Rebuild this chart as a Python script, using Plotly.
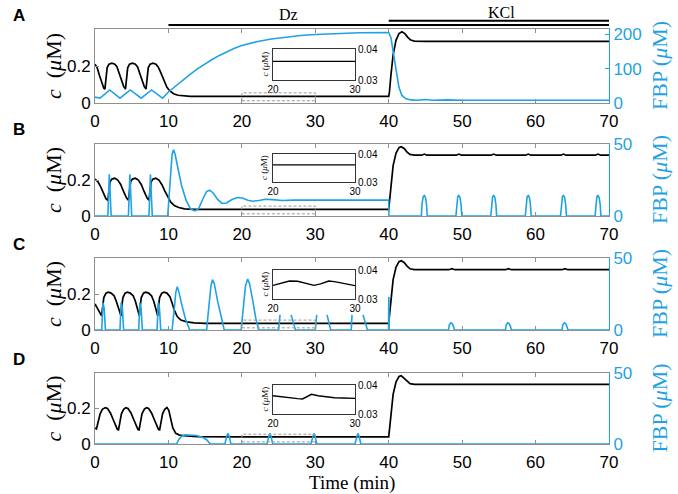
import plotly.graph_objects as go

# ---------------- data ----------------
time_ticks = [0, 10, 20, 30, 40, 50, 60, 70]
c_ticks = [0, 0.2]
c_ticktext = ["0", "0.2"]
fbp_ticks_A = [0, 100, 200]
fbp_ticks_BCD = [0, 50]
inset_x_ticks = [20, 30]
inset_y_ticks = [0.03, 0.04]
inset_y_ticktext = ["0.03", "0.04"]
panel_letters = ["A", "B", "C", "D"]
protocol_labels = ["Dz", "KCl"]
protocol_start = [10, 40]
protocol_end = [70, 70]

# (time min, c uM)
A_c = [(0, 0.21), (0.3, 0.19), (0.6, 0.15), (0.9, 0.11), (1.2, 0.08), (1.35, 0.075), (1.5, 0.14), (1.65, 0.19),
       (1.9, 0.21), (2.3, 0.215), (2.7, 0.21), (3.0, 0.195), (3.3, 0.16), (3.6, 0.12), (3.9, 0.09), (4.15, 0.075),
       (4.3, 0.14), (4.45, 0.19), (4.7, 0.21), (5.1, 0.215), (5.5, 0.21), (5.8, 0.195), (6.1, 0.16), (6.4, 0.12),
       (6.7, 0.09), (6.95, 0.075), (7.1, 0.14), (7.25, 0.19), (7.5, 0.21), (7.9, 0.215), (8.3, 0.21), (8.6, 0.195),
       (8.9, 0.17), (9.2, 0.14), (9.5, 0.11), (9.8, 0.085), (10.2, 0.065), (10.7, 0.05), (11.3, 0.042), (12, 0.038),
       (13, 0.036), (40, 0.036), (40.1, 0.06), (40.3, 0.15), (40.6, 0.26), (41.0, 0.34), (41.4, 0.375), (41.8, 0.385),
       (42.2, 0.375), (42.6, 0.355), (43.0, 0.34), (43.5, 0.335), (45, 0.333), (70, 0.333)]
# (time min, FBP uM)
A_fbp = [(0, 17), (0.7, 14), (2.0, 38), (3.4, 14), (4.8, 38), (6.3, 14), (7.7, 38), (9.2, 14), (10, 32), (11, 50),
         (12, 67), (13, 84), (14, 100), (15, 114), (16, 127), (17, 139), (18, 150), (19, 159), (20, 167), (22, 178),
         (24, 186), (26, 192), (28, 196), (30, 199), (33, 202), (36, 204), (40, 205), (40.3, 190), (40.6, 150),
         (41.0, 90), (41.4, 45), (41.8, 22), (42.3, 13), (43, 9), (44, 8), (45, 10), (46, 8), (48, 9), (50, 8),
         (55, 8), (70, 8)]
A_inset = [(20, 0.0360), (30, 0.0360)]

B_c = [(0, 0.205), (0.4, 0.19), (0.8, 0.16), (1.2, 0.12), (1.5, 0.095), (1.75, 0.088), (1.9, 0.15), (2.05, 0.19),
       (2.3, 0.205), (2.7, 0.21), (3.1, 0.2), (3.5, 0.175), (3.9, 0.135), (4.3, 0.1), (4.55, 0.088), (4.7, 0.15),
       (4.85, 0.19), (5.1, 0.205), (5.5, 0.21), (5.9, 0.2), (6.3, 0.175), (6.7, 0.135), (7.1, 0.1), (7.35, 0.088),
       (7.5, 0.15), (7.65, 0.19), (7.9, 0.205), (8.3, 0.21), (8.7, 0.2), (9.1, 0.175), (9.5, 0.14), (9.9, 0.105),
       (10.3, 0.078), (10.8, 0.058), (11.4, 0.047), (12.2, 0.04), (13.5, 0.037), (40, 0.037), (40.1, 0.08),
       (40.3, 0.18), (40.6, 0.28), (41.0, 0.35), (41.4, 0.38), (41.7, 0.385), (42.1, 0.375), (42.5, 0.355),
       (42.9, 0.342), (43.5, 0.338), (44.5, 0.338), (44.85, 0.344), (45.2, 0.338), (49.2, 0.338), (49.55, 0.344),
       (49.9, 0.338), (53.95, 0.338), (54.3, 0.344), (54.65, 0.338), (58.65, 0.338), (59.0, 0.344), (59.35, 0.338),
       (63.45, 0.338), (63.8, 0.344), (64.15, 0.338), (68.15, 0.338), (68.5, 0.344), (68.85, 0.338), (70, 0.338)]
B_fbp = [(0, 0), (1.75, 0), (1.95, 29), (2.2, 0), (4.55, 0), (4.75, 29), (5.0, 0), (7.35, 0), (7.55, 29), (7.8, 0),
         (9.9, 0), (10.2, 25), (10.5, 43), (10.7, 46), (10.9, 43), (11.3, 33), (11.8, 21), (12.4, 11), (13.0, 5),
         (13.6, 3.5), (14.1, 5), (14.7, 12), (15.2, 17), (15.6, 18), (16.1, 16), (16.7, 11.5), (17.3, 8.8),
         (17.9, 9), (18.6, 11.3), (19.4, 12.8), (20.1, 12.5), (20.8, 11), (21.5, 10.3), (22.3, 10.8), (23.2, 11.6),
         (24.2, 11.4), (25.5, 10.8), (27, 11), (40, 11), (40.02, 0),
         (44.45, 0), (44.55, 9), (44.7, 13.5), (44.85, 14.2), (45.0, 13), (45.15, 8), (45.25, 0),
         (49.15, 0), (49.25, 9), (49.4, 13.5), (49.55, 14.2), (49.7, 13), (49.85, 8), (49.95, 0),
         (53.9, 0), (54.0, 9), (54.15, 13.5), (54.3, 14.2), (54.45, 13), (54.6, 8), (54.7, 0),
         (58.6, 0), (58.7, 9), (58.85, 13.5), (59.0, 14.2), (59.15, 13), (59.3, 8), (59.4, 0),
         (63.4, 0), (63.5, 9), (63.65, 13.5), (63.8, 14.2), (63.95, 13), (64.1, 8), (64.2, 0),
         (68.1, 0), (68.2, 9), (68.35, 13.5), (68.5, 14.2), (68.65, 13), (68.8, 8), (68.9, 0), (70, 0)]
B_inset = [(20, 0.0361), (30, 0.0361)]

C_c = [(0, 0.145), (0.3, 0.12), (0.6, 0.095), (0.9, 0.078), (1.05, 0.13), (1.2, 0.18), (1.5, 0.205), (1.8, 0.21),
       (2.2, 0.205), (2.6, 0.19), (2.9, 0.16), (3.2, 0.12), (3.45, 0.085), (3.55, 0.078), (3.65, 0.13), (3.8, 0.18),
       (4.1, 0.205), (4.4, 0.21), (4.8, 0.205), (5.2, 0.19), (5.5, 0.16), (5.75, 0.12), (5.95, 0.085), (6.05, 0.078),
       (6.15, 0.13), (6.3, 0.18), (6.6, 0.205), (6.9, 0.21), (7.3, 0.205), (7.7, 0.19), (8.0, 0.16), (8.25, 0.12),
       (8.45, 0.085), (8.55, 0.078), (8.65, 0.13), (8.8, 0.18), (9.1, 0.205), (9.4, 0.21), (9.8, 0.205),
       (10.2, 0.185), (10.5, 0.15), (10.8, 0.11), (11.2, 0.075), (11.7, 0.055), (12.5, 0.045), (13.5, 0.04),
       (15, 0.037), (40, 0.037), (40.1, 0.08), (40.3, 0.18), (40.6, 0.28), (41.0, 0.35), (41.4, 0.38),
       (41.7, 0.385), (42.1, 0.375), (42.5, 0.355), (42.9, 0.34), (43.5, 0.335), (48.2, 0.335), (48.6, 0.341),
       (49.0, 0.335), (55.9, 0.335), (56.3, 0.341), (56.7, 0.335), (63.6, 0.335), (64.0, 0.341), (64.4, 0.335),
       (70, 0.335)]
C_fbp = [(0, 0), (0.92, 0), (1.08, 19), (1.25, 15), (1.42, 0), (3.4, 0), (3.56, 19), (3.73, 15), (3.9, 0),
         (5.95, 0), (6.11, 19), (6.28, 15), (6.45, 0), (8.45, 0), (8.61, 19), (8.78, 15), (8.95, 0),
         (10.5, 0), (10.8, 15), (11.0, 26), (11.2, 30), (11.4, 27), (11.8, 18), (12.3, 8), (12.9, 0),
         (15.2, 0), (15.5, 16), (15.8, 31), (16.0, 35), (16.25, 32), (16.7, 20), (17.2, 8), (17.6, 0),
         (19.9, 0), (20.2, 16), (20.5, 31), (20.8, 35.4), (21.05, 32), (21.5, 20), (21.9, 8), (22.3, 0),
         (25.0, 0), (25.2, 10.5), (None, None), (26.7, 10.5), (27.3, 0),
         (30.0, 0), (30.2, 10.5), (None, None), (31.6, 10.5), (32.1, 0),
         (34.9, 0), (35.0, 10.5), (None, None), (36.5, 10.5), (37.1, 0),
         (39.97, 0), (40.02, 23), (40.07, 0),
         (48.15, 0), (48.25, 3.5), (48.45, 5), (48.65, 4.5), (48.85, 2), (48.95, 0),
         (55.9, 0), (56.0, 3.5), (56.2, 5), (56.4, 4.5), (56.6, 2), (56.7, 0),
         (63.6, 0), (63.7, 3.5), (63.9, 5), (64.1, 4.5), (64.3, 2), (64.4, 0), (70, 0)]
C_inset = [(20, 0.0347), (21, 0.0355), (22, 0.0362), (23, 0.0361), (24, 0.0354), (25, 0.0347), (25.8, 0.0352),
           (26.8, 0.0362), (27.5, 0.0360), (28.5, 0.0354), (29.3, 0.0349), (30, 0.0346)]

D_c = [(0, 0.09), (0.2, 0.085), (0.4, 0.12), (0.7, 0.17), (1.0, 0.195), (1.4, 0.205), (1.7, 0.2), (2.1, 0.175),
       (2.5, 0.135), (2.8, 0.1), (3.05, 0.082), (3.2, 0.08), (3.35, 0.12), (3.6, 0.17), (3.9, 0.195), (4.2, 0.205),
       (4.5, 0.2), (4.9, 0.175), (5.3, 0.135), (5.6, 0.1), (5.85, 0.082), (6.0, 0.08), (6.15, 0.12), (6.4, 0.17),
       (6.7, 0.195), (7.0, 0.205), (7.3, 0.2), (7.7, 0.175), (8.1, 0.135), (8.4, 0.1), (8.65, 0.082), (8.8, 0.08),
       (8.95, 0.12), (9.2, 0.17), (9.5, 0.195), (9.8, 0.205), (10.05, 0.19), (10.3, 0.14), (10.6, 0.09),
       (11.0, 0.06), (11.5, 0.05), (12.5, 0.045), (14, 0.042), (20, 0.04), (40, 0.04), (40.1, 0.08), (40.3, 0.18),
       (40.6, 0.28), (41.0, 0.35), (41.4, 0.38), (41.7, 0.385), (42.1, 0.37), (42.5, 0.35), (42.9, 0.34),
       (43.5, 0.336), (70, 0.336)]
D_fbp = [(0, 0), (11.1, 0), (11.4, 3), (11.8, 5.5), (12.3, 6.5), (13.0, 6.5), (13.8, 6), (14.6, 4.8), (15.2, 3),
         (15.7, 0), (17.7, 0), (17.9, 5), (18.1, 7.5), (18.3, 5), (18.5, 0), (23.4, 0), (23.6, 5), (23.8, 7.5),
         (24.0, 5), (24.2, 0), (29.4, 0), (29.6, 5), (29.8, 7.5), (30.0, 5), (30.2, 0), (35.4, 0), (35.6, 5),
         (35.8, 7.5), (36.0, 5), (36.2, 0), (70, 0)]
D_inset = [(20, 0.0363), (21, 0.0359), (22, 0.0356), (23, 0.0353), (23.6, 0.0352), (24.2, 0.0362), (24.7, 0.0368),
           (25.5, 0.0363), (26.5, 0.0359), (27.5, 0.0356), (28.5, 0.0355), (30, 0.0354)]

# ---------------- layout geometry (pixels) ----------------
W, H = 678, 494
BLUE = "#1fa2e4"
GREY = "#8f8f8f"
SANS = "Liberation Sans"
SERIF = "Liberation Serif"

def px(x):
    return x / W

def py(y):
    return 1 - y / H

panels = [
    dict(c=A_c, f=A_fbp, ins=A_inset, frange=[0, 215], fticks=fbp_ticks_A, top=29, bot=103, itop=49, ibot=80),
    dict(c=B_c, f=B_fbp, ins=B_inset, frange=[0, 50], fticks=fbp_ticks_BCD, top=144, bot=216, itop=154, ibot=182),
    dict(c=C_c, f=C_fbp, ins=C_inset, frange=[0, 50], fticks=fbp_ticks_BCD, top=258, bot=330, itop=270, ibot=299),
    dict(c=D_c, f=D_fbp, ins=D_inset, frange=[0, 50], fticks=fbp_ticks_BCD, top=373, bot=444, itop=385, ibot=414),
]
X0, X1 = 95, 609
IX0, IX1 = 273, 355

fig = go.Figure()
annotations = []
shapes = []

def unzip(pairs):
    return [p[0] for p in pairs], [p[1] for p in pairs]

def label(xpix, ypix, text, size, family, color="black", angle=0):
    return dict(x=px(xpix), y=py(ypix), xref="paper", yref="paper", text=text, showarrow=False,
                xanchor="center", yanchor="middle", textangle=angle,
                font=dict(family=family, size=size, color=color))

for i, p in enumerate(panels):
    k = i + 1
    xa = "x" if k == 1 else f"x{k}"
    ya = "y" if k == 1 else f"y{k}"
    yf = f"y{k + 4}"
    xi = f"x{k + 4}"
    yi = f"y{k + 8}"

    t, v = unzip(p["c"])
    fig.add_trace(go.Scatter(x=t, y=v, mode="lines", line=dict(color="black", width=1.7),
                             xaxis=xa, yaxis=ya, showlegend=False, connectgaps=False, hoverinfo="skip"))
    t, v = unzip(p["f"])
    fig.add_trace(go.Scatter(x=t, y=v, mode="lines", line=dict(color=BLUE, width=1.6),
                             xaxis=xa, yaxis=yf, showlegend=False, connectgaps=False, hoverinfo="skip"))
    t, v = unzip(p["ins"])
    fig.add_trace(go.Scatter(x=t, y=v, mode="lines", line=dict(color="black", width=1.4),
                             xaxis=xi, yaxis=yi, showlegend=False, hoverinfo="skip"))

    xkey = "xaxis" if k == 1 else f"xaxis{k}"
    ykey = "yaxis" if k == 1 else f"yaxis{k}"
    fig.layout[xkey] = dict(domain=[px(X0), px(X1)], anchor=ya, range=[0, 70], tickvals=time_ticks,
                            ticks="inside", ticklen=4, tickcolor=GREY, showline=True, linecolor=GREY,
                            linewidth=1, mirror="ticks", showgrid=False, zeroline=False, ticklabelstandoff=3,
                            tickfont=dict(family=SANS, size=17, color="black"), automargin=False)
    fig.layout[ykey] = dict(domain=[py(p["bot"]), py(p["top"])], anchor=xa, range=[0, 0.4],
                            tickvals=c_ticks, ticktext=c_ticktext, ticks="inside", ticklen=4, tickcolor=GREY,
                            showline=True, linecolor=GREY, linewidth=1, showgrid=False, zeroline=False,
                            tickfont=dict(family=SANS, size=17, color="black"), automargin=False)
    fig.layout[f"yaxis{k + 4}"] = dict(overlaying=ya, anchor=xa, side="right", range=p["frange"],
                                       tickvals=p["fticks"], ticks="inside", ticklen=4, tickcolor=BLUE,
                                       showline=True, linecolor=BLUE, linewidth=1, showgrid=False,
                                       zeroline=False, tickfont=dict(family=SANS, size=17, color=BLUE),
                                       automargin=False)
    fig.layout[f"xaxis{k + 4}"] = dict(domain=[px(IX0), px(IX1)], anchor=yi, range=[20, 30],
                                       tickvals=inset_x_ticks, ticks="", showline=True, linecolor="#333",
                                       linewidth=1, mirror=True, showgrid=False, zeroline=False,
                                       tickfont=dict(family=SANS, size=10, color="black"), automargin=False)
    fig.layout[f"yaxis{k + 8}"] = dict(domain=[py(p["ibot"]), py(p["itop"])], anchor=xi, range=[0.03, 0.04],
                                       tickvals=inset_y_ticks, ticktext=inset_y_ticktext, side="right",
                                       ticks="", showline=True, linecolor="#333", linewidth=1, mirror=True,
                                       showgrid=False, zeroline=False,
                                       tickfont=dict(family=SANS, size=10, color="black"), automargin=False)

    # dashed zoom rectangle
    shapes.append(dict(type="rect", xref=xa, yref=ya, x0=20, x1=30, y0=0.012, y1=0.055,
                       line=dict(color="#9a9a9a", width=1, dash="3px,2px")))

    # labels
    cy = (p["top"] + p["bot"]) / 2
    annotations.append(label(19, p["top"] - 14, f"<b>{panel_letters[i]}</b>", 17, SANS))
    annotations.append(label(53, cy, "<i>c</i>  (<i>μ</i>M)", 22, SERIF, angle=-90))
    annotations.append(label(659, cy, "FBP (<i>μ</i>M)", 22, SERIF, color=BLUE, angle=-90))
    icy = (p["itop"] + p["ibot"]) / 2
    annotations.append(label(264, icy, "<i>c</i> (<i>μ</i>M)", 9, SERIF, angle=-90))

# protocol bars
bar_y = [25, 20.7]
label_x = [288, 501]
label_y = [14, 12]
for j in range(2):
    shapes.append(dict(type="line", xref="x", yref="paper", x0=protocol_start[j], x1=protocol_end[j],
                       y0=py(bar_y[j]), y1=py(bar_y[j]), line=dict(color="black", width=2)))
    annotations.append(label(label_x[j], label_y[j], protocol_labels[j], 16, SERIF))

annotations.append(label(352, 483, "Time (min)", 19, SERIF))

fig.update_layout(width=W, height=H, autosize=False, margin=dict(l=0, r=0, t=0, b=0),
                  paper_bgcolor="white", plot_bgcolor="rgba(0,0,0,0)", template="none",
                  annotations=annotations, shapes=shapes, showlegend=False, hovermode=False)

fig.write_html("out.html", config={"displayModeBar": False},
               post_script="document.body.style.margin='0';")
